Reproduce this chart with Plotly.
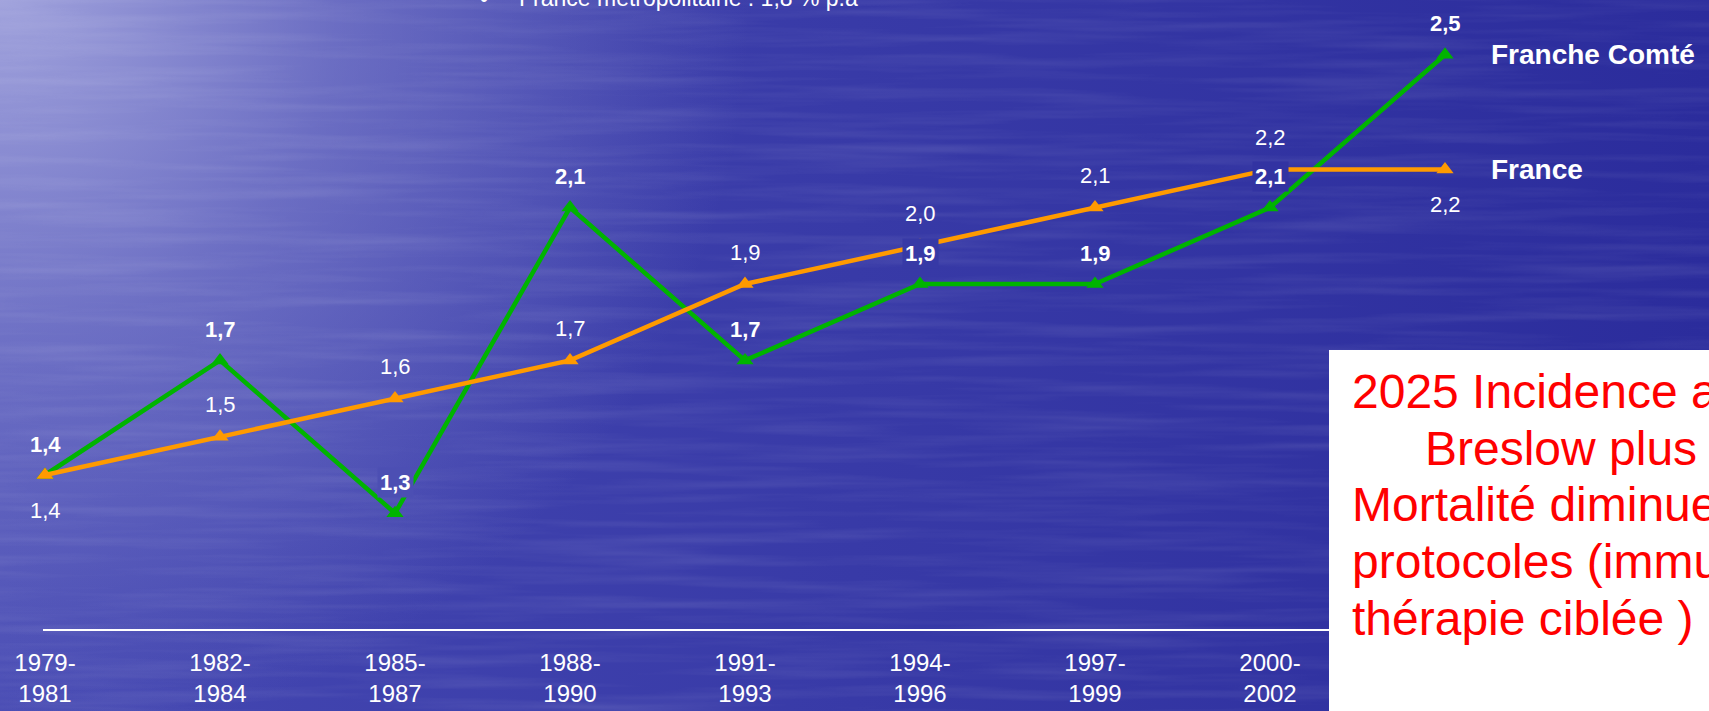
'''
    Incidence du mélanome : Franche Comté vs France, par période de 3 ans.
'''
import base64
import math

import plotly.graph_objects as go

W, H = 1709, 711

periods = ['1979-1981', '1982-1984', '1985-1987', '1988-1990', '1991-1993',
           '1994-1996', '1997-1999', '2000-2002', '']
franche_comte = [1.4, 1.7, 1.3, 2.1, 1.7, 1.9, 1.9, 2.1, 2.5]
france = [1.4, 1.5, 1.6, 1.7, 1.9, 2.0, 2.1, 2.2, 2.2]
france_label_below = [True, False, False, False, False, False, False, False, True]

headline = 'France métropolitaine : 1,8 % p.a'
note_lines = ['2025 Incidence augmente', 'Breslow plus fin', 'Mortalité diminue',
              'protocoles (immunothérapie,', 'thérapie ciblée )']

GREEN = '#00b400'
ORANGE = '#ff9a00'
FONT = 'Liberation Sans, Arial, sans-serif'

BASE_L, BASE_R = (69, 72, 178), (43, 44, 156)
GLOW = (160, 162, 220)

# green labels that sit on a line get an opaque backing, as on the slide
GREEN_LABEL_BACKED = {2, 5, 7}


def background_uri():
    '''
        Builds the blue "water" slide background as an SVG data URI.
    '''
    svg = f'''<svg xmlns="http://www.w3.org/2000/svg" width="{W}" height="{H}" viewBox="0 0 {W} {H}" preserveAspectRatio="none">
<defs>
<linearGradient id="base" x1="0" y1="0" x2="1" y2="0">
<stop offset="0" stop-color="rgb{BASE_L}"/><stop offset="1" stop-color="rgb{BASE_R}"/>
</linearGradient>
<radialGradient id="glow" gradientUnits="userSpaceOnUse" cx="0" cy="0" r="750">
<stop offset="0" stop-color="rgb{GLOW}" stop-opacity="1"/>
<stop offset="0.45" stop-color="rgb{GLOW}" stop-opacity="0.45"/>
<stop offset="1" stop-color="rgb{GLOW}" stop-opacity="0"/>
</radialGradient>
<filter id="water" x="0" y="0" width="100%" height="100%">
<feTurbulence type="fractalNoise" baseFrequency="0.004 0.09" numOctaves="3" seed="7"/>
<feColorMatrix type="matrix" values="0 0 0 0 1  0 0 0 0 1  0 0 0 0 1  0.5 0 0 0 -0.2"/>
</filter>
</defs>
<rect width="{W}" height="{H}" fill="url(#base)"/>
<rect width="{W}" height="{H}" fill="url(#glow)"/>
<rect width="{W}" height="{H}" filter="url(#water)" opacity="0.35"/>
</svg>'''
    return 'data:image/svg+xml;base64,' + base64.b64encode(svg.encode()).decode()


def bg_at(px, py):
    '''
        Approximate background colour at a pixel, used behind data labels.
    '''
    t = px / W
    base = [BASE_L[i] + (BASE_R[i] - BASE_L[i]) * t for i in range(3)]
    d = math.hypot(px, py) / 750
    if d < 0.45:
        a = 1 - d / 0.45 * 0.55
    else:
        a = max(0.0, 0.45 * (1 - (d - 0.45) / 0.55))
    c = [round(base[i] * (1 - a) + GLOW[i] * a) for i in range(3)]
    return f'rgb({c[0]},{c[1]},{c[2]})'


# pixel mapping of the slide chart
X0_PX, DX_PX = 45, 175
Y14_PX, DY_PX = 475, 382
x_dom0 = 43 / W
x_range = [(43 - X0_PX) / DX_PX, (W - X0_PX) / DX_PX]
y_range = [1.4 - (H - Y14_PX) / DY_PX, 1.4 + Y14_PX / DY_PX]

xs = list(range(len(periods)))

fig = go.Figure()
fig.add_trace(go.Scatter(
    x=xs, y=franche_comte, mode='lines+markers', name='Franche Comté',
    line=dict(color=GREEN, width=4.5),
    marker=dict(symbol='triangle-up', size=15, color=GREEN),
    cliponaxis=False
))
fig.add_trace(go.Scatter(
    x=xs, y=france, mode='lines+markers', name='France',
    line=dict(color=ORANGE, width=4.5),
    marker=dict(symbol='triangle-up', size=15, color=ORANGE),
    cliponaxis=False
))


def fmt(v):
    return f'{v:.1f}'.replace('.', ',')


annotations = []
for i, v in enumerate(france):
    below = france_label_below[i]
    annotations.append(dict(
        x=i, y=v, xref='x', yref='y', text=fmt(v), showarrow=False,
        yshift=-35 if below else 32,
        font=dict(family=FONT, size=22, color='white')
    ))
for i, v in enumerate(franche_comte):
    px = X0_PX + DX_PX * i
    py = Y14_PX - (v - 1.4) * DY_PX - 31
    backed = i in GREEN_LABEL_BACKED
    annotations.append(dict(
        x=i, y=v, xref='x', yref='y', text=f'<b>{fmt(v)}</b>', showarrow=False,
        yshift=31, bgcolor=bg_at(px, py) if backed else 'rgba(0,0,0,0)', borderpad=2,
        font=dict(family=FONT, size=22, color='white')
    ))

# series names next to the last points
for name, vals in (('Franche Comté', franche_comte), ('France', france)):
    annotations.append(dict(
        x=len(vals) - 1, y=vals[-1], xref='x', yref='y', text=f'<b>{name}</b>',
        showarrow=False, xanchor='left', xshift=44,
        font=dict(family=FONT, size=28, color='white')
    ))

# slide headline, cut by the top edge
annotations.append(dict(
    x=484 / W, y=1 + 1 / H, xref='paper', yref='paper', text='•', showarrow=False,
    xanchor='center', yanchor='middle', font=dict(family=FONT, size=23, color='white')
))
annotations.append(dict(
    x=517 / W, y=1 + 2 / H, xref='paper', yref='paper', text=headline, showarrow=False,
    xanchor='left', yanchor='middle', font=dict(family=FONT, size=23, color='white')
))

# red note in the white box
note_x = [1350, 1423, 1350, 1350, 1350]
note_y = [391, 448, 505, 561, 618]
for txt, nx, ny in zip(note_lines, note_x, note_y):
    annotations.append(dict(
        x=nx / W, y=1 - ny / H, xref='paper', yref='paper', text=txt, showarrow=False,
        xanchor='left', yanchor='middle', font=dict(family=FONT, size=48, color='#ff0000')
    ))

fig.update_layout(
    width=W, height=H,
    margin=dict(l=0, r=0, t=0, b=0, autoexpand=False),
    showlegend=False,
    paper_bgcolor='#3a3caa',
    plot_bgcolor='rgba(0,0,0,0)',
    images=[dict(
        source=background_uri(), xref='paper', yref='paper',
        x=0, y=1, sizex=1, sizey=1, sizing='stretch',
        xanchor='left', yanchor='top', layer='below'
    )],
    xaxis=dict(
        domain=[x_dom0, 1], range=x_range,
        tickvals=xs, ticktext=[p.replace('-', '-<br>') for p in periods],
        tickfont=dict(family=FONT, size=24, color='white'),
        ticks='', ticklabelstandoff=11, automargin=False,
        showgrid=False, zeroline=False,
        showline=True, linecolor='white', linewidth=2,
        anchor='free', position=(H - 630) / H
    ),
    yaxis=dict(range=y_range, domain=[0, 1], visible=False, automargin=False),
    shapes=[dict(
        type='rect', xref='paper', yref='paper',
        x0=1329 / W, x1=1.01, y0=-0.01, y1=(H - 350) / H,
        fillcolor='white', line=dict(width=0), layer='above'
    )],
    annotations=annotations,
    dragmode=False
)

fig.write_html('out.html', config={'displayModeBar': False},
               post_script="document.body.style.margin='0';")
